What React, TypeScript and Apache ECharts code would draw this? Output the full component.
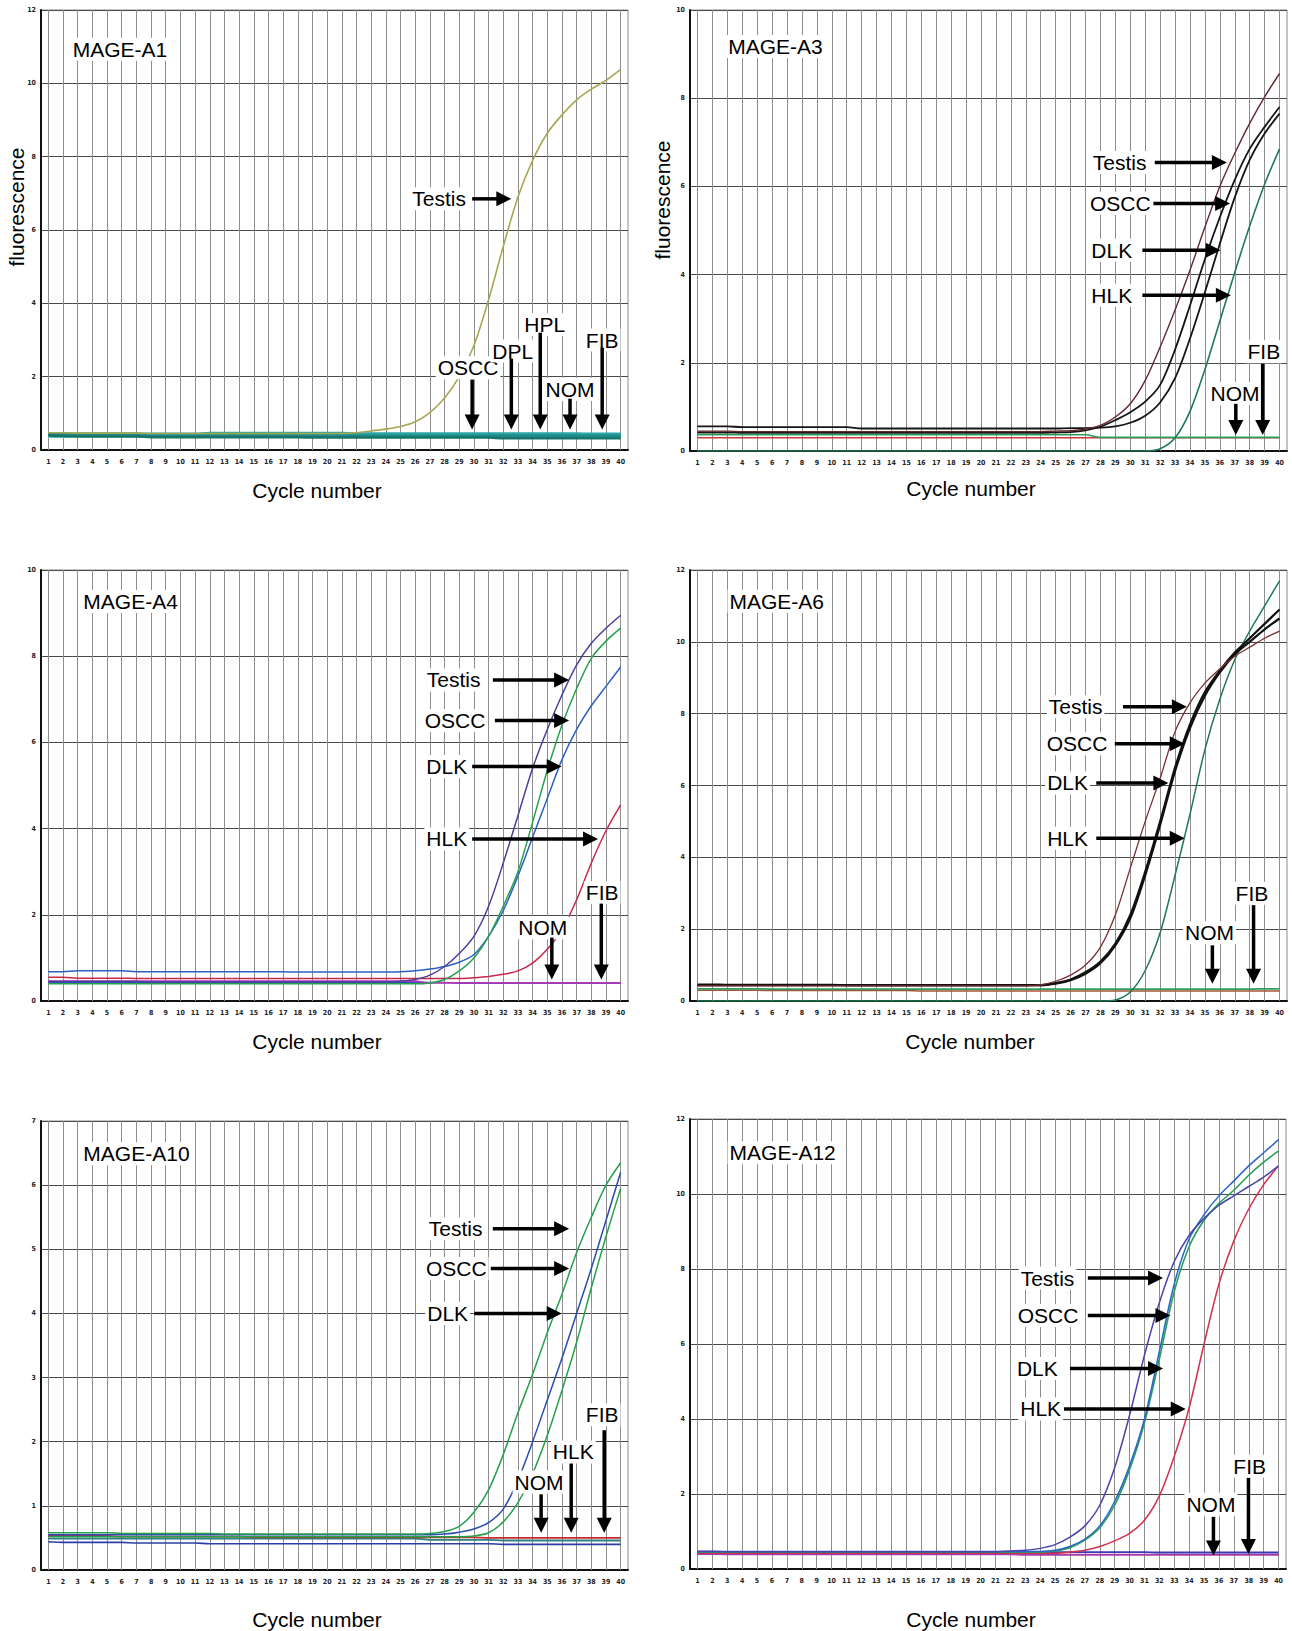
import React, { useEffect, useRef } from "react";
import * as echarts from "echarts";

const CYCLES = ["1","2","3","4","5","6","7","8","9","10","11","12","13","14","15","16","17","18","19","20","21","22","23","24","25","26","27","28","29","30","31","32","33","34","35","36","37","38","39","40"];

// MAGE-A1
const A1_TESTIS = [0.47,0.47,0.46,0.46,0.46,0.46,0.46,0.45,0.45,0.45, 0.45,0.45,0.45,0.45,0.45,0.45,0.45,0.45,0.45,0.45, 0.45,0.47,0.52,0.57,0.64,0.77,1.02,1.42,2.0,2.85, 4.1,5.55,6.9,7.9,8.64,9.14,9.55,9.84,10.08,10.38];
const A1_OSCC = [0.45,0.45,0.45,0.45,0.45,0.45,0.45,0.44,0.44,0.44, 0.44,0.46,0.46,0.46,0.46,0.46,0.46,0.46,0.46,0.46, 0.46,0.45,0.45,0.45,0.45,0.45,0.45,0.45,0.45,0.45, 0.45,0.45,0.45,0.45,0.45,0.45,0.45,0.44,0.44,0.44];
const A1_DPL = [0.42,0.42,0.40,0.40,0.40,0.40,0.40,0.39,0.39,0.39, 0.39,0.39,0.39,0.39,0.39,0.39,0.39,0.39,0.39,0.39, 0.39,0.39,0.39,0.39,0.39,0.39,0.39,0.39,0.39,0.39, 0.39,0.39,0.39,0.39,0.39,0.39,0.39,0.39,0.39,0.39];
const A1_HPL = [0.40,0.38,0.37,0.37,0.37,0.37,0.37,0.35,0.35,0.35, 0.35,0.35,0.35,0.35,0.35,0.35,0.35,0.35,0.34,0.34, 0.34,0.34,0.34,0.34,0.34,0.34,0.34,0.34,0.34,0.34, 0.34,0.32,0.32,0.32,0.32,0.32,0.32,0.32,0.32,0.32];
const A1_NOM = [0.36,0.36,0.38,0.38,0.38,0.38,0.38,0.38,0.38,0.38, 0.38,0.38,0.38,0.38,0.38,0.38,0.38,0.36,0.36,0.36, 0.36,0.36,0.36,0.36,0.36,0.36,0.36,0.36,0.36,0.36, 0.36,0.36,0.36,0.36,0.36,0.36,0.36,0.36,0.36,0.36];
const A1_FIB = [0.43,0.43,0.42,0.42,0.42,0.42,0.42,0.41,0.41,0.41, 0.41,0.41,0.41,0.41,0.41,0.41,0.41,0.41,0.41,0.41, 0.41,0.41,0.41,0.41,0.41,0.41,0.41,0.41,0.41,0.41, 0.41,0.41,0.41,0.41,0.41,0.41,0.41,0.42,0.42,0.42];

// MAGE-A3
const A3_TESTIS = [0.45,0.45,0.45,0.44,0.44,0.44,0.44,0.44,0.44,0.44, 0.44,0.44,0.44,0.44,0.44,0.44,0.44,0.44,0.44,0.44, 0.44,0.44,0.44,0.44,0.45,0.46,0.5,0.58,0.77,1.07, 1.6,2.36,3.2,4.1,5.08,6.0,6.75,7.43,8.03,8.56];
const A3_OSCC = [0.42,0.42,0.42,0.41,0.41,0.41,0.41,0.41,0.41,0.41, 0.41,0.41,0.41,0.41,0.41,0.41,0.41,0.41,0.41,0.41, 0.41,0.41,0.41,0.41,0.42,0.43,0.47,0.55,0.7,0.88, 1.12,1.5,2.3,3.3,4.35,5.3,6.15,6.85,7.35,7.8];
const A3_DLK = [0.56,0.56,0.56,0.54,0.54,0.54,0.54,0.54,0.54,0.54, 0.54,0.51,0.51,0.51,0.51,0.51,0.51,0.51,0.51,0.51, 0.51,0.51,0.51,0.51,0.51,0.52,0.52,0.53,0.56,0.64, 0.8,1.1,1.65,2.55,3.6,4.7,5.75,6.6,7.2,7.65];
const A3_HLK = [0,0,0,0,0,0,0,0,0,0, 0,0,0,0,0,0,0,0,0,0, 0,0,0,0,0,0,0,0,0,0, 0,0.05,0.3,0.9,1.85,2.95,4.05,5.1,6.05,6.85];
const A3_NOM = [0.3,0.3,0.3,0.3,0.3,0.3,0.3,0.3,0.3,0.3, 0.3,0.3,0.3,0.3,0.3,0.3,0.3,0.3,0.3,0.3, 0.3,0.3,0.3,0.3,0.3,0.3,0.3,0.3,0.3,0.3, 0.3,0.3,0.3,0.3,0.3,0.3,0.3,0.3,0.3,0.3];
const A3_FIB = [0.37,0.37,0.37,0.37,0.37,0.37,0.37,0.37,0.37,0.37, 0.37,0.37,0.37,0.37,0.37,0.37,0.37,0.37,0.37,0.37, 0.37,0.37,0.37,0.37,0.37,0.37,0.37,0.31,0.31,0.31, 0.31,0.31,0.31,0.31,0.31,0.31,0.31,0.31,0.31,0.31];

// MAGE-A4
const A4_TESTIS = [0.45,0.45,0.45,0.45,0.45,0.45,0.45,0.44,0.44,0.44, 0.44,0.44,0.44,0.44,0.44,0.44,0.44,0.44,0.44,0.44, 0.44,0.44,0.44,0.44,0.46,0.5,0.6,0.8,1.1,1.5, 2.2,3.2,4.3,5.4,6.3,7.1,7.8,8.3,8.65,8.95];
const A4_OSCC = [0.4,0.4,0.4,0.4,0.4,0.4,0.4,0.4,0.4,0.4, 0.4,0.4,0.4,0.4,0.4,0.4,0.4,0.4,0.4,0.4, 0.4,0.4,0.4,0.4,0.4,0.4,0.42,0.5,0.7,1.0, 1.5,2.2,3.0,4.15,5.35,6.4,7.25,7.95,8.35,8.65];
const A4_DLK = [0.68,0.68,0.7,0.7,0.7,0.7,0.68,0.68,0.68,0.68, 0.68,0.68,0.68,0.68,0.68,0.68,0.68,0.67,0.67,0.67, 0.67,0.67,0.67,0.67,0.68,0.7,0.74,0.8,0.9,1.08, 1.5,2.1,2.9,3.8,4.7,5.6,6.3,6.85,7.3,7.75];
const A4_HLK = [0.55,0.55,0.53,0.53,0.53,0.53,0.52,0.52,0.52,0.52, 0.52,0.52,0.52,0.52,0.52,0.52,0.52,0.52,0.52,0.52, 0.52,0.52,0.52,0.52,0.52,0.52,0.52,0.52,0.52,0.54, 0.57,0.62,0.7,0.88,1.2,1.65,2.35,3.2,3.95,4.55];
const A4_NOM = [0.46,0.46,0.46,0.46,0.46,0.46,0.46,0.46,0.46,0.46, 0.46,0.46,0.46,0.46,0.46,0.46,0.46,0.46,0.46,0.46, 0.46,0.46,0.46,0.46,0.46,0.46,0.42,0.42,0.42,0.42, 0.42,0.42,0.42,0.42,0.42,0.42,0.42,0.42,0.42,0.42];
const A4_FIB = [0.43,0.43,0.43,0.43,0.43,0.43,0.43,0.43,0.43,0.43, 0.43,0.43,0.43,0.43,0.43,0.43,0.43,0.43,0.43,0.43, 0.43,0.43,0.43,0.43,0.43,0.43,0.43,0.43,0.41,0.41, 0.41,0.41,0.41,0.41,0.41,0.41,0.41,0.41,0.41,0.41];

// MAGE-A6
const A6_TESTIS = [0.42,0.42,0.42,0.42,0.42,0.42,0.42,0.42,0.42,0.42, 0.42,0.42,0.42,0.42,0.42,0.42,0.42,0.42,0.42,0.42, 0.42,0.42,0.42,0.45,0.55,0.72,1.0,1.5,2.4,3.7, 5.0,6.2,7.5,8.3,8.85,9.25,9.6,9.85,10.1,10.3];
const A6_OSCC = [0.46,0.46,0.45,0.45,0.45,0.45,0.45,0.45,0.45,0.45, 0.44,0.44,0.44,0.44,0.44,0.44,0.44,0.44,0.44,0.44, 0.44,0.44,0.44,0.44,0.5,0.6,0.8,1.1,1.6,2.4, 3.6,5.0,6.5,7.7,8.6,9.2,9.7,10.1,10.5,10.9];
const A6_DLK = [0.44,0.44,0.44,0.44,0.44,0.44,0.44,0.44,0.44,0.44, 0.44,0.44,0.44,0.44,0.44,0.44,0.44,0.44,0.44,0.44, 0.44,0.44,0.44,0.44,0.48,0.58,0.76,1.05,1.55,2.3, 3.5,4.9,6.4,7.6,8.5,9.15,9.65,10.0,10.35,10.65];
const A6_HLK = [0,0,0,0,0,0,0,0,0,0, 0,0,0,0,0,0,0,0,0,0, 0,0,0,0,0,0,0,0,0.03,0.25, 0.85,1.9,3.5,5.2,7.0,8.4,9.5,10.3,11.0,11.7];
const A6_NOM = [0.34,0.34,0.34,0.34,0.34,0.33,0.33,0.33,0.33,0.33, 0.33,0.33,0.33,0.33,0.33,0.33,0.33,0.33,0.33,0.33, 0.33,0.33,0.33,0.33,0.33,0.33,0.33,0.33,0.33,0.33, 0.33,0.33,0.33,0.33,0.33,0.33,0.33,0.33,0.34,0.34];
const A6_FIB = [0.3,0.3,0.3,0.3,0.3,0.29,0.29,0.29,0.29,0.29, 0.29,0.29,0.29,0.29,0.29,0.28,0.28,0.28,0.28,0.28, 0.28,0.28,0.28,0.28,0.28,0.28,0.28,0.28,0.28,0.28, 0.28,0.28,0.28,0.28,0.28,0.28,0.28,0.28,0.28,0.28];

// MAGE-A10
const A10_TESTIS = [0.58,0.58,0.58,0.58,0.58,0.57,0.57,0.57,0.57,0.57, 0.57,0.57,0.56,0.56,0.56,0.56,0.56,0.56,0.56,0.56, 0.56,0.56,0.56,0.56,0.56,0.56,0.57,0.6,0.68,0.9, 1.25,1.8,2.45,3.05,3.7,4.3,4.95,5.5,6.0,6.35];
const A10_OSCC = [0.55,0.55,0.55,0.55,0.55,0.55,0.55,0.55,0.55,0.55, 0.55,0.55,0.55,0.55,0.55,0.55,0.55,0.55,0.55,0.55, 0.55,0.55,0.55,0.55,0.55,0.55,0.55,0.56,0.59,0.64, 0.74,0.95,1.4,2.0,2.65,3.3,4.0,4.7,5.45,6.2];
const A10_DLK = [0.52,0.52,0.52,0.52,0.52,0.52,0.52,0.52,0.52,0.52, 0.52,0.52,0.52,0.52,0.52,0.52,0.52,0.52,0.52,0.52, 0.52,0.52,0.52,0.52,0.52,0.52,0.52,0.52,0.52,0.53, 0.58,0.75,1.05,1.5,2.1,2.8,3.55,4.4,5.2,5.95];
const A10_HLK = [0.53,0.53,0.53,0.53,0.53,0.52,0.52,0.52,0.52,0.52, 0.52,0.52,0.52,0.52,0.51,0.51,0.51,0.51,0.51,0.51, 0.51,0.51,0.51,0.51,0.51,0.51,0.51,0.51,0.51,0.51, 0.5,0.5,0.5,0.5,0.5,0.5,0.5,0.5,0.5,0.5];
const A10_NOM = [0.44,0.43,0.43,0.43,0.43,0.43,0.42,0.42,0.42,0.42, 0.42,0.41,0.41,0.41,0.41,0.41,0.41,0.41,0.41,0.41, 0.41,0.41,0.41,0.41,0.41,0.41,0.41,0.41,0.41,0.41, 0.41,0.4,0.4,0.4,0.4,0.4,0.4,0.4,0.4,0.4];
const A10_FIB = [0.49,0.49,0.49,0.49,0.49,0.49,0.49,0.49,0.49,0.49, 0.49,0.49,0.49,0.49,0.49,0.49,0.49,0.49,0.49,0.49, 0.49,0.49,0.49,0.49,0.49,0.49,0.47,0.47,0.47,0.47, 0.47,0.46,0.46,0.46,0.46,0.46,0.46,0.46,0.46,0.46];

// MAGE-A12
const A12_TESTIS = [0.47,0.47,0.46,0.46,0.46,0.46,0.46,0.46,0.46,0.46, 0.46,0.46,0.46,0.46,0.46,0.46,0.46,0.46,0.46,0.46, 0.46,0.48,0.5,0.55,0.65,0.85,1.15,1.7,2.7,4.1, 5.7,7.1,8.2,8.9,9.35,9.7,9.95,10.2,10.45,10.75];
const A12_OSCC = [0.47,0.47,0.47,0.47,0.47,0.47,0.47,0.47,0.47,0.47, 0.47,0.47,0.47,0.47,0.47,0.47,0.47,0.47,0.47,0.47, 0.47,0.47,0.47,0.47,0.5,0.6,0.8,1.15,1.8,2.75, 4.0,5.8,7.6,8.8,9.45,9.95,10.35,10.75,11.1,11.45];
const A12_DLK = [0.45,0.45,0.45,0.45,0.45,0.45,0.45,0.45,0.45,0.45, 0.45,0.45,0.45,0.45,0.45,0.45,0.45,0.45,0.45,0.45, 0.45,0.45,0.45,0.45,0.48,0.57,0.77,1.1,1.7,2.65, 3.9,5.6,7.4,8.6,9.3,9.75,10.1,10.5,10.85,11.15];
const A12_HLK = [0.42,0.42,0.42,0.42,0.42,0.42,0.42,0.42,0.42,0.42, 0.42,0.42,0.42,0.42,0.42,0.42,0.42,0.42,0.42,0.42, 0.42,0.42,0.42,0.42,0.42,0.45,0.5,0.6,0.75,0.95, 1.3,1.95,3.0,4.3,6.0,7.6,8.75,9.6,10.25,10.75];
const A12_NOM = [0.4,0.4,0.39,0.39,0.39,0.39,0.39,0.39,0.39,0.39, 0.39,0.39,0.39,0.39,0.39,0.39,0.39,0.39,0.39,0.39, 0.39,0.39,0.38,0.38,0.38,0.38,0.38,0.38,0.38,0.38, 0.38,0.38,0.38,0.38,0.38,0.38,0.38,0.38,0.38,0.38];
const A12_FIB = [0.46,0.46,0.45,0.45,0.45,0.45,0.45,0.45,0.45,0.45, 0.45,0.45,0.45,0.45,0.45,0.45,0.45,0.45,0.45,0.45, 0.45,0.45,0.45,0.45,0.45,0.45,0.45,0.45,0.45,0.45, 0.45,0.44,0.44,0.44,0.44,0.44,0.44,0.44,0.44,0.44];

// Annotations (in cycle / fluorescence units)
const A1_LABELS = [
  { t: "MAGE-A1", c: 2.52, v: 10.93, a: "left" },
  { t: "Testis", c: 29.6, v: 6.85, a: "right" },
  { t: "OSCC", c: 29.6, v: 2.24, a: "center" },
  { t: "DPL", c: 32.64, v: 2.7, a: "center" },
  { t: "HPL", c: 34.83, v: 3.42, a: "center" },
  { t: "NOM", c: 36.55, v: 1.65, a: "center" },
  { t: "FIB", c: 38.74, v: 3.0, a: "center" },
];
const A1_ARROWS = [
  { c1: 29.88, v1: 6.85, c2: 32.55, v2: 6.85 },
  { c1: 29.88, v1: 1.92, c2: 29.88, v2: 0.56 },
  { c1: 32.55, v1: 2.49, c2: 32.55, v2: 0.56 },
  { c1: 34.52, v1: 3.2, c2: 34.52, v2: 0.56 },
  { c1: 36.55, v1: 1.4, c2: 36.55, v2: 0.56 },
  { c1: 38.74, v1: 2.79, c2: 38.74, v2: 0.56 },
];
const A3_LABELS = [
  { t: "MAGE-A3", c: 2.93, v: 9.17, a: "left" },
  { t: "Testis", c: 31.22, v: 6.54, a: "right" },
  { t: "OSCC", c: 31.5, v: 5.61, a: "right" },
  { t: "DLK", c: 30.26, v: 4.55, a: "right" },
  { t: "HLK", c: 30.26, v: 3.53, a: "right" },
  { t: "FIB", c: 38.95, v: 2.25, a: "center" },
  { t: "NOM", c: 37.02, v: 1.3, a: "center" },
];
const A3_ARROWS = [
  { c1: 31.64, v1: 6.54, c2: 36.47, v2: 6.54 },
  { c1: 31.55, v1: 5.61, c2: 36.69, v2: 5.61 },
  { c1: 30.81, v1: 4.55, c2: 36.05, v2: 4.55 },
  { c1: 30.81, v1: 3.53, c2: 36.74, v2: 3.53 },
  { c1: 38.87, v1: 1.98, c2: 38.87, v2: 0.36 },
  { c1: 37.07, v1: 1.07, c2: 37.07, v2: 0.36 },
];
const A4_LABELS = [
  { t: "MAGE-A4", c: 3.25, v: 9.27, a: "left" },
  { t: "Testis", c: 30.58, v: 7.45, a: "right" },
  { t: "OSCC", c: 30.92, v: 6.51, a: "right" },
  { t: "DLK", c: 29.68, v: 5.44, a: "right" },
  { t: "HLK", c: 29.68, v: 3.76, a: "right" },
  { t: "FIB", c: 38.74, v: 2.51, a: "center" },
  { t: "NOM", c: 34.69, v: 1.7, a: "center" },
];
const A4_ARROWS = [
  { c1: 31.29, v1: 7.45, c2: 36.49, v2: 7.45 },
  { c1: 31.43, v1: 6.51, c2: 36.49, v2: 6.51 },
  { c1: 29.88, v1: 5.44, c2: 35.98, v2: 5.44 },
  { c1: 29.88, v1: 3.76, c2: 38.46, v2: 3.76 },
  { c1: 38.68, v1: 2.26, c2: 38.68, v2: 0.5 },
  { c1: 35.31, v1: 1.47, c2: 35.31, v2: 0.5 },
];
const A6_LABELS = [
  { t: "MAGE-A6", c: 3.01, v: 11.13, a: "left" },
  { t: "Testis", c: 28.27, v: 8.19, a: "right" },
  { t: "OSCC", c: 28.6, v: 7.16, a: "right" },
  { t: "DLK", c: 27.3, v: 6.07, a: "right" },
  { t: "HLK", c: 27.3, v: 4.53, a: "right" },
  { t: "NOM", c: 35.31, v: 1.9, a: "center" },
  { t: "FIB", c: 38.15, v: 3.0, a: "center" },
];
const A6_ARROWS = [
  { c1: 29.51, v1: 8.19, c2: 33.79, v2: 8.19 },
  { c1: 28.96, v1: 7.16, c2: 33.65, v2: 7.16 },
  { c1: 27.72, v1: 6.07, c2: 32.55, v2: 6.07 },
  { c1: 27.72, v1: 4.53, c2: 33.65, v2: 4.53 },
  { c1: 35.5, v1: 1.55, c2: 35.5, v2: 0.48 },
  { c1: 38.26, v1: 2.67, c2: 38.26, v2: 0.48 },
];
const A10_LABELS = [
  { t: "MAGE-A10", c: 3.25, v: 6.49, a: "left" },
  { t: "Testis", c: 30.72, v: 5.32, a: "right" },
  { t: "OSCC", c: 31.0, v: 4.7, a: "right" },
  { t: "DLK", c: 29.74, v: 4.0, a: "right" },
  { t: "FIB", c: 38.74, v: 2.42, a: "center" },
  { t: "HLK", c: 36.77, v: 1.84, a: "center" },
  { t: "NOM", c: 34.44, v: 1.37, a: "center" },
];
const A10_ARROWS = [
  { c1: 31.29, v1: 5.32, c2: 36.49, v2: 5.32 },
  { c1: 31.15, v1: 4.7, c2: 36.49, v2: 4.7 },
  { c1: 30.02, v1: 4.0, c2: 35.98, v2: 4.0 },
  { c1: 38.88, v1: 2.18, c2: 38.88, v2: 0.58 },
  { c1: 36.63, v1: 1.66, c2: 36.63, v2: 0.58 },
  { c1: 34.58, v1: 1.18, c2: 34.58, v2: 0.58 },
];
const A12_LABELS = [
  { t: "MAGE-A12", c: 3.02, v: 11.1, a: "left" },
  { t: "Testis", c: 26.43, v: 7.76, a: "right" },
  { t: "OSCC", c: 26.7, v: 6.76, a: "right" },
  { t: "DLK", c: 25.32, v: 5.35, a: "right" },
  { t: "HLK", c: 25.54, v: 4.27, a: "right" },
  { t: "FIB", c: 38.06, v: 2.74, a: "center" },
  { t: "NOM", c: 35.46, v: 1.73, a: "center" },
];
const A12_ARROWS = [
  { c1: 27.2, v1: 7.76, c2: 32.25, v2: 7.76 },
  { c1: 27.2, v1: 6.76, c2: 32.75, v2: 6.76 },
  { c1: 26.0, v1: 5.35, c2: 32.25, v2: 5.35 },
  { c1: 25.6, v1: 4.27, c2: 33.77, v2: 4.27 },
  { c1: 37.98, v1: 2.43, c2: 37.98, v2: 0.4 },
  { c1: 35.63, v1: 1.39, c2: 35.63, v2: 0.36 },
];

const FONT = '"Liberation Sans", Arial, Helvetica, sans-serif';
const TICK_FONT = '"DejaVu Sans Condensed", "DejaVu Sans", sans-serif';

type S = [string, number[], string, number];
const PANELS: any[] = [
  {
    grid: [41, 10, 587, 440], yMax: 12, yStep: 2, yName: [16, 207], xName: [317, 490],
    series: [
      ["NOM", A1_NOM, "#5cc6d4", 2.4], ["FIB", A1_FIB, "#2f9c7c", 2.4], ["OSCC", A1_OSCC, "#2aa6a8", 2.6],
      ["DPL", A1_DPL, "#1f8a8c", 2.6], ["HPL", A1_HPL, "#187468", 2.6], ["Testis", A1_TESTIS, "#a9a652", 1.6],
    ] as S[],
    labels: A1_LABELS, arrows: A1_ARROWS,
  },
  {
    grid: [690, 10, 597, 441], yMax: 10, yStep: 2, yName: [662, 200], xName: [971, 488],
    series: [
      ["NOM", A3_NOM, "#c83a3a", 1.6], ["FIB", A3_FIB, "#27a05c", 1.6], ["HLK", A3_HLK, "#1f7a50", 1.6],
      ["DLK", A3_DLK, "#151515", 1.8], ["OSCC", A3_OSCC, "#151515", 1.8], ["Testis", A3_TESTIS, "#62282c", 1.4],
    ] as S[],
    labels: A3_LABELS, arrows: A3_ARROWS,
  },
  {
    grid: [41, 570, 587, 431], yMax: 10, yStep: 2, yName: null, xName: [317, 1041],
    series: [
      ["FIB", A4_FIB, "#3c48c0", 1.4], ["NOM", A4_NOM, "#b23ab6", 1.6], ["HLK", A4_HLK, "#c8284c", 1.5],
      ["DLK", A4_DLK, "#2b62c2", 1.5], ["OSCC", A4_OSCC, "#25a34c", 1.5], ["Testis", A4_TESTIS, "#4a3f9e", 1.5],
    ] as S[],
    labels: A4_LABELS, arrows: A4_ARROWS,
  },
  {
    grid: [690, 570, 597, 431], yMax: 12, yStep: 2, yName: null, xName: [970, 1041],
    series: [
      ["FIB", A6_FIB, "#a8543a", 1.5], ["NOM", A6_NOM, "#2f9d5c", 1.8], ["HLK", A6_HLK, "#1f7a52", 1.5],
      ["DLK", A6_DLK, "#111111", 2.2], ["OSCC", A6_OSCC, "#111111", 2.2], ["Testis", A6_TESTIS, "#7a2e32", 1.3],
    ] as S[],
    labels: A6_LABELS, arrows: A6_ARROWS,
  },
  {
    grid: [41, 1121, 587, 449], yMax: 7, yStep: 1, yName: null, xName: [317, 1619],
    series: [
      ["NOM", A10_NOM, "#2c3ca6", 1.6], ["FIB", A10_FIB, "#2e7f88", 1.8], ["HLK", A10_HLK, "#cc2a2a", 1.8],
      ["DLK", A10_DLK, "#23a04a", 1.5], ["OSCC", A10_OSCC, "#2a4cb2", 1.5], ["Testis", A10_TESTIS, "#23a04a", 1.5],
    ] as S[],
    labels: A10_LABELS, arrows: A10_ARROWS,
  },
  {
    grid: [690, 1119, 596, 450], yMax: 12, yStep: 2, yName: null, xName: [971, 1619],
    series: [
      ["NOM", A12_NOM, "#a83aa8", 1.8], ["FIB", A12_FIB, "#3a3ab4", 1.8], ["HLK", A12_HLK, "#d2304e", 1.5],
      ["DLK", A12_DLK, "#27a05c", 1.6], ["OSCC", A12_OSCC, "#2a66c6", 1.5], ["Testis", A12_TESTIS, "#4a44aa", 1.5],
    ] as S[],
    labels: A12_LABELS, arrows: A12_ARROWS,
  },
];

function buildOption() {
  const series: any[] = [];
  PANELS.forEach((p, i) => {
    (p.series as S[]).forEach(([name, data, color, width]) => {
      series.push({
        type: "line", name, xAxisIndex: i, yAxisIndex: i, data,
        showSymbol: false, symbol: "none", smooth: 0.3,
        lineStyle: { color, width }, itemStyle: { color }, silent: true, z: 3,
      });
    });
  });
  return {
    animation: false,
    backgroundColor: "#ffffff",
    grid: PANELS.map((p) => ({
      left: p.grid[0], top: p.grid[1], width: p.grid[2], height: p.grid[3],
      show: true, borderColor: "#8a8a8a", borderWidth: 1, backgroundColor: "transparent",
    })),
    xAxis: PANELS.map((p, i) => ({
      gridIndex: i, type: "category", data: CYCLES, boundaryGap: true,
      axisLine: { show: true, lineStyle: { color: "#111", width: 2 } },
      axisTick: { show: true, alignWithLabel: true, inside: true, interval: 0, length: p.grid[3], lineStyle: { color: "#8e8e8e", width: 1 } },
      axisLabel: { interval: 0, fontSize: 7, fontWeight: "bold", fontFamily: TICK_FONT, color: "#222", margin: 8 },
      splitLine: { show: false },
    })),
    yAxis: PANELS.map((p, i) => ({
      gridIndex: i, type: "value", min: 0, max: p.yMax, interval: p.yStep,
      axisLine: { show: true, lineStyle: { color: "#111", width: 2 } },
      axisTick: { show: false },
      axisLabel: { fontSize: 7, fontWeight: "bold", fontFamily: TICK_FONT, color: "#222", margin: 5 },
      splitLine: { show: true, lineStyle: { color: "#4a4a4a", width: 1 } },
    })),
    series,
  };
}

function buildGraphics(chart: any) {
  const els: any[] = [];
  const HEAD = 15, HW = 7.5, SHAFT = 3.5;
  PANELS.forEach((p, gi) => {
    const toPx = (c: number, v: number) => {
      const i0 = Math.min(Math.max(Math.floor(c - 1), 0), 38);
      const f = c - 1 - i0;
      const a = chart.convertToPixel({ gridIndex: gi }, [i0, v]);
      const b = chart.convertToPixel({ gridIndex: gi }, [i0 + 1, v]);
      return [a[0] + (b[0] - a[0]) * f, a[1]];
    };
    p.labels.forEach((l: any) => {
      const [x, y] = toPx(l.c, l.v);
      els.push({
        type: "text", x, y, z: 100,
        style: {
          text: l.t, font: `21px ${FONT}`, fill: "#000",
          align: l.a, verticalAlign: "middle", textAlign: l.a, textVerticalAlign: "middle",
          backgroundColor: "#ffffff", padding: [1, 2, 1, 2],
        },
      });
    });
    p.arrows.forEach((ar: any) => {
      const [x1, y1] = toPx(ar.c1, ar.v1);
      const [x2, y2] = toPx(ar.c2, ar.v2);
      if (Math.abs(y1 - y2) < 0.5) {
        els.push({ type: "line", z: 101, shape: { x1, y1, x2: x2 - HEAD + 2, y2: y1 }, style: { stroke: "#000", lineWidth: SHAFT } });
        els.push({ type: "polygon", z: 101, shape: { points: [[x2, y1], [x2 - HEAD, y1 - HW], [x2 - HEAD, y1 + HW]] }, style: { fill: "#000" } });
      } else {
        els.push({ type: "line", z: 101, shape: { x1, y1, x2: x1, y2: y2 - HEAD + 2 }, style: { stroke: "#000", lineWidth: SHAFT } });
        els.push({ type: "polygon", z: 101, shape: { points: [[x1, y2], [x1 - HW, y2 - HEAD], [x1 + HW, y2 - HEAD]] }, style: { fill: "#000" } });
      }
    });
    els.push({
      type: "text", x: p.xName[0], y: p.xName[1], z: 100,
      style: { text: "Cycle number", font: `21px ${FONT}`, fill: "#000", align: "center", verticalAlign: "middle", textAlign: "center", textVerticalAlign: "middle" },
    });
    if (p.yName) {
      els.push({
        type: "text", x: p.yName[0], y: p.yName[1], rotation: Math.PI / 2, z: 100,
        style: { text: "fluorescence", font: `21px ${FONT}`, fill: "#000", align: "center", verticalAlign: "middle", textAlign: "center", textVerticalAlign: "middle" },
      });
    }
  });
  return els;
}

export default function App() {
  const ref = useRef<HTMLDivElement>(null);
  useEffect(() => {
    document.body.style.margin = "0";
    const chart = echarts.init(ref.current as HTMLDivElement, null, { renderer: "svg", width: 1292, height: 1631 });
    chart.setOption(buildOption());
    chart.setOption({ graphic: { elements: buildGraphics(chart) } });
    return () => chart.dispose();
  }, []);
  return <div ref={ref} style={{ position: "absolute", left: 0, top: 0, width: 1292, height: 1631, background: "#fff" }} />;
}
